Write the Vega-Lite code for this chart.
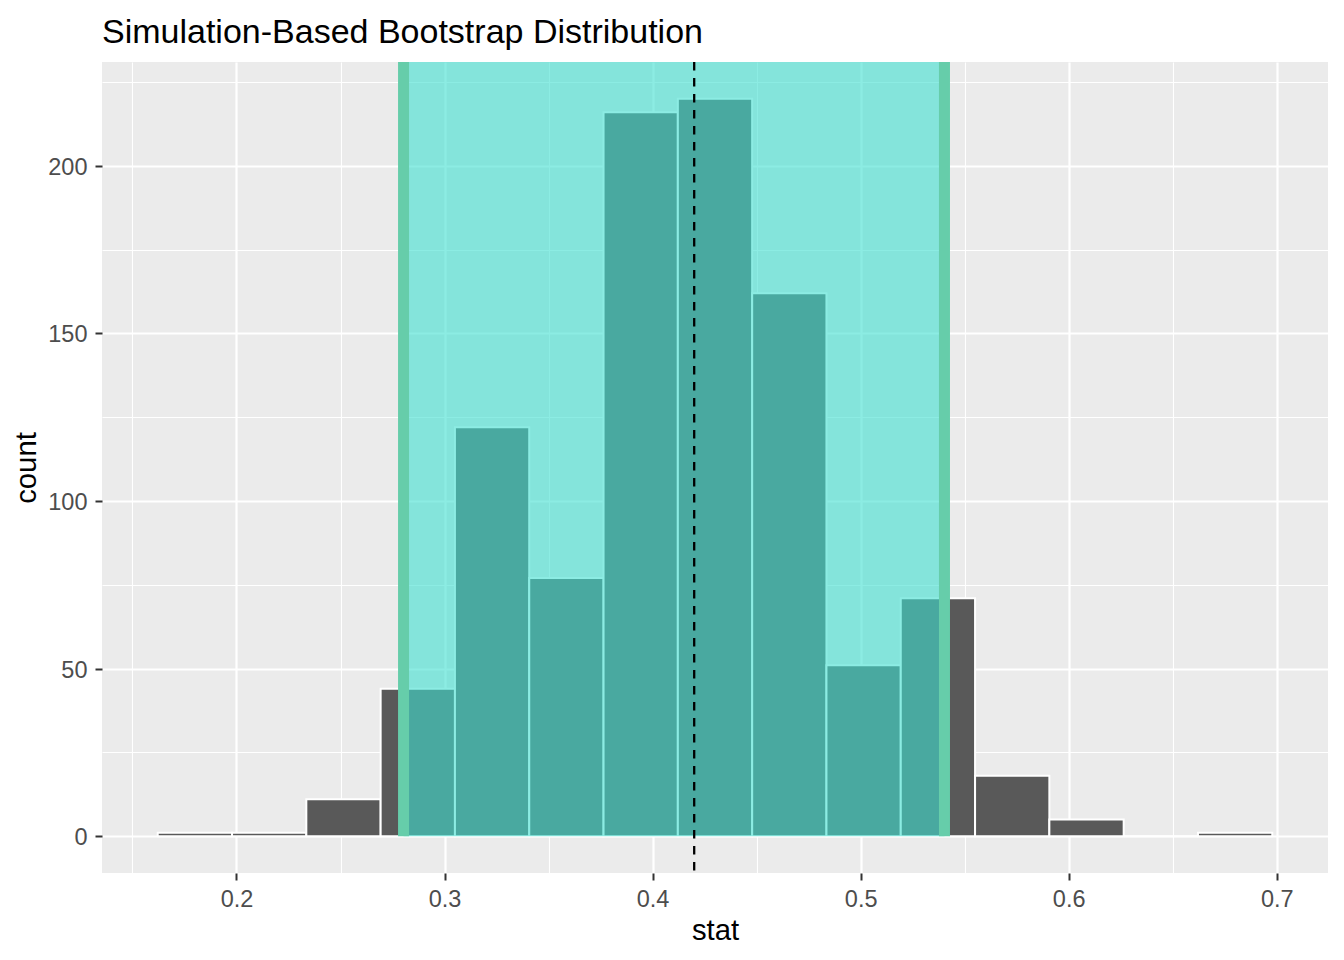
{
  "$schema": "https://vega.github.io/schema/vega-lite/v6.json",
  "width": 1226,
  "height": 811,
  "autosize": {"type": "none"},
  "padding": {"left": 102, "top": 62, "right": 16, "bottom": 87},
  "background": "white",
  "title": {
    "text": "Simulation-Based Bootstrap Distribution",
    "anchor": "start",
    "frame": "group",
    "font": "Liberation Sans",
    "fontSize": 34,
    "fontWeight": "normal",
    "color": "black",
    "baseline": "alphabetic",
    "offset": -20
  },
  "config": {
    "view": {"fill": "#EBEBEB", "stroke": null},
    "font": "Liberation Sans"
  },
  "datasets": {
    "bins": [
      {"bin_start": 0.16214, "bin_end": 0.19786, "count": 1},
      {"bin_start": 0.19786, "bin_end": 0.23357, "count": 1},
      {"bin_start": 0.23357, "bin_end": 0.26929, "count": 11},
      {"bin_start": 0.26929, "bin_end": 0.30500, "count": 44},
      {"bin_start": 0.30500, "bin_end": 0.34071, "count": 122},
      {"bin_start": 0.34071, "bin_end": 0.37643, "count": 77},
      {"bin_start": 0.37643, "bin_end": 0.41214, "count": 216},
      {"bin_start": 0.41214, "bin_end": 0.44786, "count": 220},
      {"bin_start": 0.44786, "bin_end": 0.48357, "count": 162},
      {"bin_start": 0.48357, "bin_end": 0.51929, "count": 51},
      {"bin_start": 0.51929, "bin_end": 0.55500, "count": 71},
      {"bin_start": 0.55500, "bin_end": 0.59071, "count": 18},
      {"bin_start": 0.59071, "bin_end": 0.62643, "count": 5},
      {"bin_start": 0.62643, "bin_end": 0.66214, "count": 0},
      {"bin_start": 0.66214, "bin_end": 0.69786, "count": 1}
    ],
    "ci": [{"lower": 0.2803, "upper": 0.5403}],
    "obs": [{"stat": 0.42}]
  },
  "layer": [
    {
      "data": {"name": "bins"},
      "mark": {"type": "rect", "fill": "#595959", "stroke": "white", "strokeWidth": 2},
      "encoding": {
        "x": {
          "field": "bin_start",
          "type": "quantitative",
          "scale": {"domain": [0.13536, 0.72464], "nice": false, "zero": false},
          "axis": {
            "title": "stat",
            "values": [0.2, 0.3, 0.4, 0.5, 0.6, 0.7],
            "format": ".1f",
            "domain": false,
            "tickSize": 7,
            "tickWidth": 2,
            "tickColor": "#333333",
            "labelFont": "Liberation Sans",
            "labelFontSize": 23.5,
            "labelColor": "#4D4D4D",
            "labelBaseline": "alphabetic",
            "labelPadding": 26,
            "labelFlush": false,
            "labelOverlap": false,
            "grid": true,
            "gridColor": "white",
            "gridWidth": 2.2,
            "titleFont": "Liberation Sans",
            "titleFontSize": 29.3,
            "titleFontWeight": "normal",
            "titleColor": "black",
            "titleBaseline": "alphabetic",
            "titleAlign": "center",
            "titleX": 613,
            "titleY": 66
          }
        },
        "x2": {"field": "bin_end"},
        "y": {
          "field": "count",
          "type": "quantitative",
          "scale": {"domain": [-11, 231], "nice": false, "zero": false},
          "axis": {
            "title": "count",
            "values": [0, 50, 100, 150, 200],
            "format": "d",
            "domain": false,
            "tickSize": 7,
            "tickWidth": 2,
            "tickColor": "#333333",
            "labelFont": "Liberation Sans",
            "labelFontSize": 23.5,
            "labelColor": "#4D4D4D",
            "labelBaseline": "alphabetic",
            "labelOffset": 8.5,
            "labelPadding": 8,
            "labelFlush": false,
            "labelOverlap": false,
            "grid": true,
            "gridColor": "white",
            "gridWidth": 2.2,
            "titleFont": "Liberation Sans",
            "titleFontSize": 29.3,
            "titleFontWeight": "normal",
            "titleColor": "black",
            "titleBaseline": "alphabetic",
            "titleAlign": "center",
            "titleAngle": 270,
            "titleX": -67,
            "titleY": 405.5
          }
        },
        "y2": {"datum": 0}
      }
    },
    {
      "data": {"name": "ci"},
      "mark": {"type": "rect", "fill": "#40E0D0", "opacity": 0.6},
      "encoding": {
        "x": {"field": "lower", "type": "quantitative", "axis": {
          "orient": "bottom",
          "values": [0.15, 0.25, 0.35, 0.45, 0.55, 0.65],
          "grid": true,
          "gridColor": "white",
          "gridWidth": 1.1,
          "labels": false,
          "ticks": false,
          "domain": false,
          "title": null
        }},
        "x2": {"field": "upper"},
        "y": {"datum": 0, "type": "quantitative", "axis": {
          "orient": "left",
          "values": [25, 75, 125, 175, 225],
          "grid": true,
          "gridColor": "white",
          "gridWidth": 1.1,
          "labels": false,
          "ticks": false,
          "domain": false,
          "title": null
        }},
        "y2": {"datum": 231}
      }
    },
    {
      "data": {"name": "ci"},
      "transform": [{"fold": ["lower", "upper"], "as": ["bound", "endpoint"]}],
      "mark": {"type": "rule", "color": "#66CDAA", "strokeWidth": 11},
      "encoding": {
        "x": {"field": "endpoint", "type": "quantitative", "axis": null},
        "y": {"datum": 0, "type": "quantitative", "axis": null},
        "y2": {"datum": 231}
      }
    },
    {
      "data": {"name": "obs"},
      "mark": {"type": "rule", "color": "black", "strokeWidth": 2.3, "strokeDash": [8.5, 7.5]},
      "encoding": {
        "x": {"field": "stat", "type": "quantitative", "axis": null}
      }
    }
  ],
  "resolve": {"axis": {"x": "independent", "y": "independent"}}
}
